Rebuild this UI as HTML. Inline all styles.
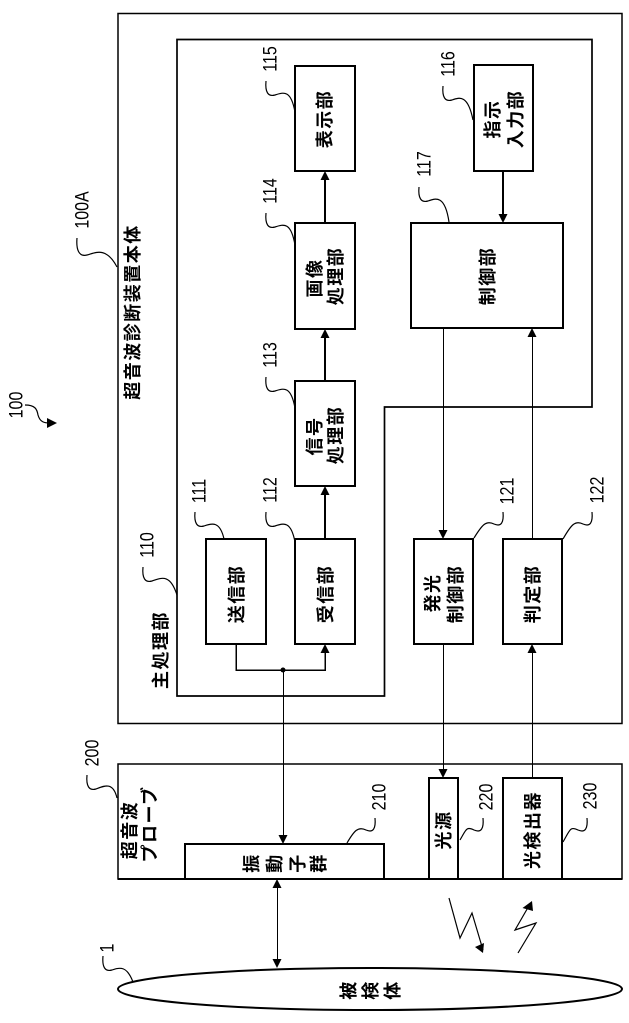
<!DOCTYPE html>
<html><head><meta charset="utf-8"><style>
html,body{margin:0;padding:0;background:#fff}
svg{display:block}
.j{font-family:"Liberation Sans","Noto Sans CJK JP",sans-serif;font-size:18px;font-weight:700;fill:#000;text-anchor:middle;dominant-baseline:central;letter-spacing:1.5px}
.n{font-family:"Liberation Sans",sans-serif;font-size:16px;fill:#000;text-anchor:middle;dominant-baseline:central}
.b{fill:#fff;stroke:#000;stroke-width:2;shape-rendering:crispEdges}
.l{fill:none;stroke:#000;stroke-width:2;shape-rendering:crispEdges}
.s{fill:none;stroke:#000;stroke-width:1;shape-rendering:crispEdges}
.t{fill:none;stroke:#000;stroke-width:1.200}
</style></head><body>
<svg width="629" height="1023" viewBox="0 0 629 1023" xmlns="http://www.w3.org/2000/svg">
<rect width="629" height="1023" fill="#fff"/>
<rect x="118" y="13.500" width="504" height="710" fill="none" stroke="#000" stroke-width="1.500"/>
<path d="M177 39.500H592V407H384.500V696H177Z" fill="none" stroke="#000" stroke-width="1.700"/>
<rect x="118" y="764" width="504" height="115" fill="none" stroke="#000" stroke-width="1.500"/>
<path d="M118 879H622" stroke="#000" stroke-width="2"/>
<ellipse cx="370" cy="989" rx="252" ry="21" fill="#fff" stroke="#000" stroke-width="2"/>

<rect class="b" x="295" y="66" width="60" height="105"/>
<rect class="b" x="295" y="223" width="60" height="106"/>
<rect class="b" x="295" y="381" width="60" height="105"/>
<rect class="b" x="295" y="539" width="60" height="105"/>
<rect class="b" x="206" y="539" width="60" height="105"/>
<rect class="b" x="474" y="65" width="59" height="106"/>
<rect class="b" x="411" y="223" width="152" height="105"/>
<rect class="b" x="414" y="539" width="59" height="105"/>
<rect class="b" x="503" y="539" width="59" height="105"/>
<rect class="b" x="185" y="844" width="199" height="35"/>
<rect class="b" x="429" y="778" width="29" height="101"/>
<rect class="b" x="503" y="778" width="59" height="101"/>

<path class="l" d="M325 223V178M325 381V336M325 539V493M503 171V216"/>
<path class="l" style="stroke-width:1.500" d="M236 644V670H325V651"/>
<path class="s" d="M283.500 670V837M277.500 886V961M443.500 328V532M532.500 539V335M443.500 644V771M532.500 778V651"/>
<g fill="#000">
<path d="M325 171l-4.500 9h9zM325 329l-4.500 9h9zM325 486l-4.500 9h9zM325 644l-4.500 9h9zM503 223l-4.500 -9h9zM532 328l-4.500 9h9zM443 539l-4.500 -9h9zM283 844l-4.500 -9h9zM277 879l-4.500 9h9zM277 968l-4.500 -9h9zM443 778l-4.500 -9h9zM532 644l-4.500 9h9z"/>
<circle cx="283" cy="670" r="2.500"/>
<path d="M475 947L484 943L483 953ZM532 901L522.500 908L533 911ZM57 423L47 418V428Z"/>
</g>
<path class="t" d="M449 898L460 938L472 913L483 950M518 953L536 923L515 930L530 904"/>

<g class="t">
<path d="M77 238C76 250 79 257 87 255C95 253 106 246 117 267"/>
<path d="M266 81C265 92 268 97 275 95C284 92 291 90 295 112"/>
<path d="M266 213C265 224 268 229 275 227C284 224 291 222 295 245"/>
<path d="M266 377C265 388 268 393 275 391C284 388 291 386 295 408"/>
<path d="M266 512C265 523 268 528 275 526C284 523 291 521 295 542"/>
<path d="M195 512C194 523 197 528 204 526C212 523 220 521 224 539"/>
<path d="M143 567C142 578 145 583 152 581C161 578 170 573 177 595"/>
<path d="M443 86C442 97 445 102 452 100C460 97 468 95 473 120"/>
<path d="M419 187C418 198 421 203 428 201C436 198 445 195 449 222"/>
<path d="M503 512C504 523 501 527 494 524C486 520 482 525 474 538"/>
<path d="M592 512C593 523 590 527 583 524C575 520 571 525 563 539"/>
<path d="M87 775C86 786 89 791 96 789C104 786 113 781 117 798"/>
<path d="M103 956C102 967 105 972 112 970C120 967 127 966 133 982"/>
<path d="M375 818C376 829 373 833 366 830C358 826 354 831 347 843"/>
<path d="M483 818C484 829 481 833 474 830C466 826 466 830 460 840"/>
<path d="M587 818C588 829 585 833 578 830C570 826 570 830 563 842"/>
<path d="M25 405C35 405 37 409 38 415C40 422 44 423 50 423"/>
</g>

<g class="n">
<text transform="translate(16 405) rotate(-90) scale(1 1.200)">100</text>
<text transform="translate(82 210) rotate(-90) scale(1 1.200)">100A</text>
<text transform="translate(270 59) rotate(-90) scale(1 1.200)">115</text>
<text transform="translate(270 191) rotate(-90) scale(1 1.200)">114</text>
<text transform="translate(270 355) rotate(-90) scale(1 1.200)">113</text>
<text transform="translate(199 491) rotate(-90) scale(1 1.200)">111</text>
<text transform="translate(270 490) rotate(-90) scale(1 1.200)">112</text>
<text transform="translate(147 545) rotate(-90) scale(1 1.200)">110</text>
<text transform="translate(448 64) rotate(-90) scale(1 1.200)">116</text>
<text transform="translate(424 164) rotate(-90) scale(1 1.200)">117</text>
<text transform="translate(507 491) rotate(-90) scale(1 1.200)">121</text>
<text transform="translate(597 490) rotate(-90) scale(1 1.200)">122</text>
<text transform="translate(92 753) rotate(-90) scale(1 1.200)">200</text>
<text transform="translate(107 948) rotate(-90) scale(1 1.200)">1</text>
<text transform="translate(379 797) rotate(-90) scale(1 1.200)">210</text>
<text transform="translate(486 797) rotate(-90) scale(1 1.200)">220</text>
<text transform="translate(590 796) rotate(-90) scale(1 1.200)">230</text>
</g>

<g class="j">
<text x="133" y="312" transform="rotate(-90 133 312)">超音波診断装置本体</text>
<text x="161" y="650" transform="rotate(-90 161 650)">主処理部</text>
<text x="237" y="594" transform="rotate(-90 237 594)">送信部</text>
<text x="326" y="594" transform="rotate(-90 326 594)">受信部</text>
<text x="315" y="436" transform="rotate(-90 315 436)">信号</text>
<text x="336" y="435" transform="rotate(-90 336 435)">処理部</text>
<text x="315" y="278" transform="rotate(-90 315 278)">画像</text>
<text x="336" y="276" transform="rotate(-90 336 276)">処理部</text>
<text x="325" y="119" transform="rotate(-90 325 119)">表示部</text>
<text x="493" y="119" transform="rotate(-90 493 119)">指示</text>
<text x="516" y="119" transform="rotate(-90 516 119)">入力部</text>
<text x="488" y="276" transform="rotate(-90 488 276)">制御部</text>
<text x="433" y="593" transform="rotate(-90 433 593)">発光</text>
<text x="456" y="594" transform="rotate(-90 456 594)">制御部</text>
<text x="533" y="594" transform="rotate(-90 533 594)">判定部</text>
<text x="130" y="830" transform="rotate(-90 130 830)">超音波</text>
<text x="150" y="824" transform="rotate(-90 150 824)">プローブ</text>
<text x="252" y="863" transform="rotate(-90 252 863)">振</text>
<text x="275" y="863" transform="rotate(-90 275 863)">動</text>
<text x="298" y="863" transform="rotate(-90 298 863)">子</text>
<text x="319" y="863" transform="rotate(-90 319 863)">群</text>
<text x="444" y="830" transform="rotate(-90 444 830)">光源</text>
<text x="533" y="830" transform="rotate(-90 533 830)">光検出器</text>
<text x="349" y="990" transform="rotate(-90 349 990)">被</text>
<text x="371" y="990" transform="rotate(-90 371 990)">検</text>
<text x="393" y="990" transform="rotate(-90 393 990)">体</text>
</g>
</svg>
</body></html>
